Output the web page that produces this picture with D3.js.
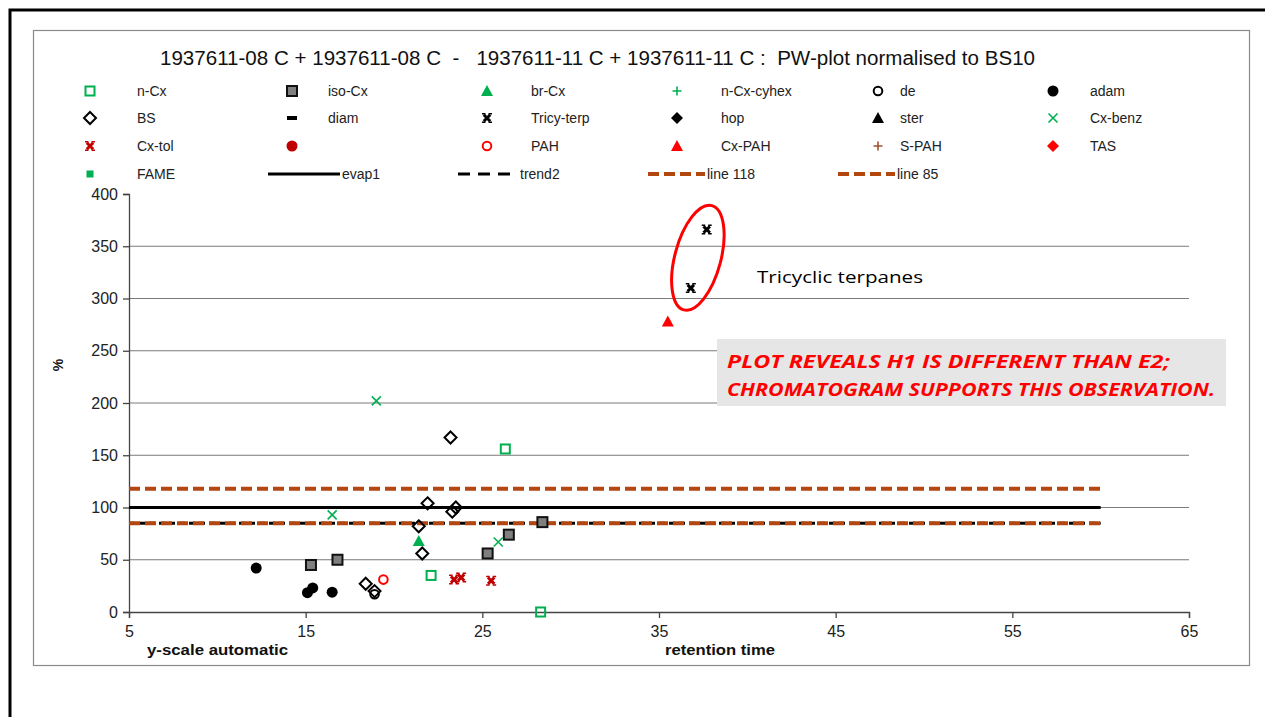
<!DOCTYPE html>
<html>
<head>
<meta charset="utf-8">
<script src="https://cdn.jsdelivr.net/npm/d3@7"></script>
<style>
  html, body { margin: 0; padding: 0; background: #fff; }
  svg { display: block; font-family: "Liberation Sans", Arial, sans-serif; }
</style>
</head>
<body>
<svg id="chart" width="1265" height="717"></svg>
<script>
// ---- data: retention time (x) and normalised % (y) per compound group ----
const nCxX = [22.1, 26.3, 28.3];
const nCxY = [35, 156, 0];
const isoCxX = [15.3, 16.8, 25.3, 26.5, 28.4];
const isoCxY = [45, 50, 56, 74, 86];
const brCxX = [21.4];
const brCxY = [68];
const deX = [18.9];
const deY = [17];
const adamX = [12.2, 15.1, 15.4, 16.5];
const adamY = [42, 18.5, 23, 19];
const bsX = [18.4, 18.9, 21.4, 21.6, 21.9, 23.2, 23.3, 23.5];
const bsY = [27, 20, 82, 56, 104, 167, 96, 100];
const tricyX = [37.7, 36.8];
const tricyY = [366, 310];
const cxBenzX = [19.0, 16.5, 25.9];
const cxBenzY = [202, 93, 67];
const cxTolX = [23.4, 23.8, 25.5];
const cxTolY = [31, 33, 30];
const pahX = [19.4];
const pahY = [31];
const cxPahX = [35.5];
const cxPahY = [278];

// reference lines: [start, end] retention time, constant level
const lineRange = [5, 60];
const evap1Level = 100;
const trend2Level = 85;
const line118Level = 118;
const line85Level = 85;

const xTicks = [5, 15, 25, 35, 45, 55, 65];
const yTicks = [0, 50, 100, 150, 200, 250, 300, 350, 400];

const titleText = "1937611-08 C + 1937611-08 C  -   1937611-11 C + 1937611-11 C :  PW-plot normalised to BS10";

// ---- colours ----
const GREEN = "#00b050", DARKRED = "#c00000", RED = "#ff0000", BROWN = "#b4470f", BROWN2 = "#a0522d";

const svg = d3.select("#chart");

// slide frame and chart frame
svg.append("rect").attr("x", 10).attr("y", 10).attr("width", 1400).attr("height", 900)
  .attr("fill", "none").attr("stroke", "#000").attr("stroke-width", 3);
svg.append("rect").attr("x", 33.5).attr("y", 30.5).attr("width", 1216).attr("height", 635)
  .attr("fill", "#fff").attr("stroke", "#8a8a8a").attr("stroke-width", 1.2);

const x = d3.scaleLinear().domain([5, 65]).range([129, 1189]);
const y = d3.scaleLinear().domain([0, 400]).range([612, 194]);

// title
svg.append("text").attr("x", 160).attr("y", 65)
  .attr("font-size", 19.5).attr("fill", "#111").style("white-space", "pre")
  .attr("textLength", 875).attr("lengthAdjust", "spacingAndGlyphs").text(titleText);

// gridlines
svg.append("g").selectAll("line").data(yTicks.filter(v => v > 0 && v < 400)).join("line")
  .attr("x1", x(5)).attr("x2", x(65)).attr("y1", d => y(d)).attr("y2", d => y(d))
  .attr("stroke", "#7a7a7a").attr("stroke-width", 1);

// axes
const gx = svg.append("g").attr("transform", `translate(0,${y(0)})`)
  .call(d3.axisBottom(x).tickValues(xTicks).tickSize(6).tickFormat(d3.format("d")));
const gy = svg.append("g").attr("transform", `translate(${x(5)},0)`)
  .call(d3.axisLeft(y).tickValues(yTicks).tickSize(6).tickFormat(d3.format("d")));
[gx, gy].forEach(g => {
  g.select(".domain").attr("stroke", "#444").attr("stroke-width", 1.3);
  g.selectAll(".tick line").attr("stroke", "#444").attr("stroke-width", 1.3);
  g.selectAll(".tick text").attr("font-size", 16).attr("fill", "#222")
    .attr("font-family", "Liberation Sans, Arial, sans-serif");
});
gx.selectAll(".tick text").attr("dy", "1.0em");
gy.selectAll(".tick text").attr("dx", "-2px");

// axis titles
svg.append("text").attr("x", 147).attr("y", 655).attr("font-size", 14).attr("font-weight", "bold")
  .attr("textLength", 141).attr("lengthAdjust", "spacingAndGlyphs").attr("fill", "#111").text("y-scale automatic");
svg.append("text").attr("x", 665).attr("y", 655).attr("font-size", 14).attr("font-weight", "bold")
  .attr("textLength", 110).attr("lengthAdjust", "spacingAndGlyphs").attr("fill", "#111").text("retention time");
svg.append("text").attr("transform", "translate(63,365) rotate(-90)").attr("text-anchor", "middle")
  .attr("font-size", 14).attr("font-weight", "bold").attr("fill", "#111").text("%");

// reference lines
const hline = (level, stroke, width, dash) => svg.append("line")
  .attr("x1", x(lineRange[0])).attr("x2", x(lineRange[1]))
  .attr("y1", y(level)).attr("y2", y(level))
  .attr("stroke", stroke).attr("stroke-width", width).attr("stroke-dasharray", dash);
hline(evap1Level, "#000", 3, null);
hline(trend2Level, "#000", 3, "6,4");
hline(line118Level, BROWN, 4, "11,5");
hline(line85Level, BROWN, 4, "11,5");

// marker painters
const markers = {
  openSquare: (g, c) => g.append("rect").attr("x", -4.5).attr("y", -4.5).attr("width", 9).attr("height", 9)
    .attr("fill", "none").attr("stroke", c).attr("stroke-width", 2),
  graySquare: (g) => g.append("rect").attr("x", -5).attr("y", -5).attr("width", 10).attr("height", 10)
    .attr("fill", "#7f7f7f").attr("stroke", "#111").attr("stroke-width", 2),
  smallSquare: (g, c) => g.append("rect").attr("x", -3.5).attr("y", -3.5).attr("width", 7).attr("height", 7).attr("fill", c),
  triangle: (g, c) => g.append("path").attr("d", "M0,-6L6,5L-6,5Z").attr("fill", c),
  plus: (g, c) => g.append("path").attr("d", "M-4.5,0H4.5M0,-4.5V4.5").attr("stroke", c).attr("stroke-width", 1.6),
  openCircle: (g, c) => g.append("circle").attr("r", 4.3).attr("fill", "none").attr("stroke", c).attr("stroke-width", 2),
  dot: (g, c) => g.append("circle").attr("r", 5.5).attr("fill", c),
  openDiamond: (g, c) => g.append("path").attr("d", "M0,-6L6,0L0,6L-6,0Z").attr("fill", "none").attr("stroke", c).attr("stroke-width", 2),
  diamond: (g, c) => g.append("path").attr("d", "M0,-6L6,0L0,6L-6,0Z").attr("fill", c),
  bar: (g, c) => g.append("rect").attr("x", -5).attr("y", -2).attr("width", 10).attr("height", 4).attr("fill", c),
  // heavy cross with flared tips
  boldX: (g, c) => {
    g.append("path").attr("d", "M-3.2,-3.2L3.2,3.2M3.2,-3.2L-3.2,3.2")
      .attr("stroke", c).attr("stroke-width", 3).attr("fill", "none");
    g.append("path").attr("d", "M-5,-5H-1.5V-3.5H-5ZM1.5,-5H5V-3.5H1.5ZM-5,3.5H-1.5V5H-5ZM1.5,3.5H5V5H1.5Z").attr("fill", c);
  },
  thinX: (g, c) => g.append("path").attr("d", "M-4.5,-4.5L4.5,4.5M4.5,-4.5L-4.5,4.5").attr("stroke", c).attr("stroke-width", 1.6)
};

// series definitions (plot + legend)
const series = [
  { name: "n-Cx", m: "openSquare", c: GREEN, xs: nCxX, ys: nCxY },
  { name: "iso-Cx", m: "graySquare", c: "#7f7f7f", xs: isoCxX, ys: isoCxY },
  { name: "br-Cx", m: "triangle", c: GREEN, xs: brCxX, ys: brCxY },
  { name: "n-Cx-cyhex", m: "plus", c: GREEN, xs: [], ys: [] },
  { name: "de", m: "openCircle", c: "#000", xs: deX, ys: deY },
  { name: "adam", m: "dot", c: "#000", xs: adamX, ys: adamY },
  { name: "BS", m: "openDiamond", c: "#000", xs: bsX, ys: bsY },
  { name: "diam", m: "bar", c: "#000", xs: [], ys: [] },
  { name: "Tricy-terp", m: "boldX", c: "#000", xs: tricyX, ys: tricyY },
  { name: "hop", m: "diamond", c: "#000", xs: [], ys: [] },
  { name: "ster", m: "triangle", c: "#000", xs: [], ys: [] },
  { name: "Cx-benz", m: "thinX", c: GREEN, xs: cxBenzX, ys: cxBenzY },
  { name: "Cx-tol", m: "boldX", c: DARKRED, xs: cxTolX, ys: cxTolY },
  { name: "", m: "dot", c: DARKRED, xs: [], ys: [] },
  { name: "PAH", m: "openCircle", c: RED, xs: pahX, ys: pahY },
  { name: "Cx-PAH", m: "triangle", c: RED, xs: cxPahX, ys: cxPahY },
  { name: "S-PAH", m: "plus", c: BROWN2, xs: [], ys: [] },
  { name: "TAS", m: "diamond", c: RED, xs: [], ys: [] },
  { name: "FAME", m: "smallSquare", c: GREEN, xs: [], ys: [] }
];

// draw points
const pts = svg.append("g");
series.forEach(s => {
  s.xs.forEach((xv, i) => {
    const g = pts.append("g").attr("transform", `translate(${x(xv)},${y(s.ys[i])})`);
    markers[s.m](g, s.c);
  });
});

// legend: 6 columns of markers, then line entries on the last row
const legMarkX = [90, 292, 487, 677, 878, 1053];
const legTextX = [137, 328, 531, 721, 900, 1090];
const legRowY = [91, 118, 146, 174];
const leg = svg.append("g");
series.forEach((s, i) => {
  const col = i % 6, row = Math.floor(i / 6);
  const g = leg.append("g").attr("transform", `translate(${legMarkX[col]},${legRowY[row]})`);
  markers[s.m](g, s.c);
  if (s.name) leg.append("text").attr("x", legTextX[col]).attr("y", legRowY[row] + 5)
    .attr("font-size", 14).attr("fill", "#222").text(s.name);
});
const lineLegend = [
  { name: "evap1", x1: 268, x2: 340, c: "#000", w: 3, dash: null },
  { name: "trend2", x1: 458, x2: 518, c: "#000", w: 3, dash: "12,8" },
  { name: "line 118", x1: 648, x2: 705, c: BROWN, w: 4, dash: "11,5" },
  { name: "line 85", x1: 838, x2: 895, c: BROWN, w: 4, dash: "11,5" }
];
lineLegend.forEach(l => {
  leg.append("line").attr("x1", l.x1).attr("x2", l.x2).attr("y1", legRowY[3]).attr("y2", legRowY[3])
    .attr("stroke", l.c).attr("stroke-width", l.w).attr("stroke-dasharray", l.dash);
  leg.append("text").attr("x", l.x2 + 2).attr("y", legRowY[3] + 5).attr("font-size", 14).attr("fill", "#222").text(l.name);
});

// annotation: ellipse around the tricyclic terpanes
svg.append("ellipse")
  .attr("transform", `translate(${x(37.2)},${y(339)}) rotate(15)`)
  .attr("rx", 23).attr("ry", 54).attr("fill", "none").attr("stroke", RED).attr("stroke-width", 3);
svg.append("text").attr("x", 757).attr("y", 283).attr("font-family", "Open Sans, sans-serif")
  .attr("font-size", 16).attr("textLength", 166).attr("lengthAdjust", "spacingAndGlyphs")
  .attr("fill", "#000").text("Tricyclic terpanes");

// annotation box
svg.append("rect").attr("x", 717).attr("y", 339).attr("width", 509).attr("height", 67).attr("fill", "#e6e6e6");
const noteLines = ["PLOT REVEALS H1 IS DIFFERENT THAN E2;", "CHROMATOGRAM SUPPORTS THIS OBSERVATION."];
const noteLen = [443, 488];
noteLines.forEach((t, i) => {
  svg.append("text").attr("x", 727).attr("y", 368 + i * 28)
    .attr("font-family", "Open Sans, sans-serif").attr("font-size", 18)
    .attr("font-weight", "bold").attr("font-style", "italic").attr("fill", RED)
    .attr("textLength", noteLen[i]).attr("lengthAdjust", "spacingAndGlyphs").text(t);
});
</script>
</body>
</html>
